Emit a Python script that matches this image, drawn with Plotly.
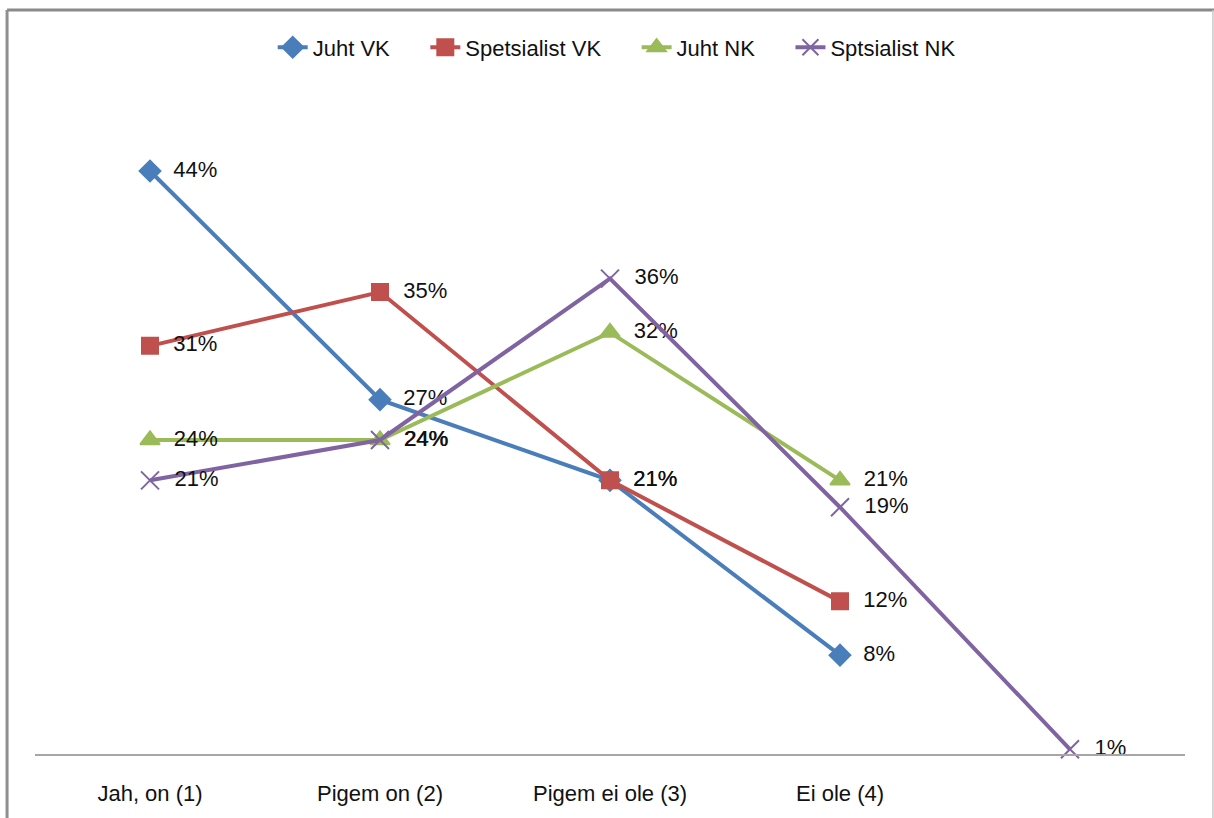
import plotly.graph_objects as go

# Answer categories (the fifth position carries no label)
categories = ["Jah, on (1)", "Pigem on (2)", "Pigem ei ole (3)", "Ei ole (4)", ""]

# Share of respondents per answer, in percent
juht_vk = [44, 27, 21, 8, None]
spetsialist_vk = [31, 35, 21, 12, None]
juht_nk = [24, 24, 32, 21, None]
sptsialist_nk = [21, 24, 36, 19, 1]

series = [
    ("Juht VK", juht_vk, "#4A7EBB", "diamond", 16),
    ("Spetsialist VK", spetsialist_vk, "#C0504D", "square", 16),
    ("Juht NK", juht_nk, "#9BBB59", "triangle-up", 17),
    ("Sptsialist NK", sptsialist_nk, "#8064A2", "x-thin-open", 18),
]

FONT = "Liberation Sans"
x_pos = list(range(len(categories)))
PAD = "\u00a0" * 5  # extra room between legend entries

fig = go.Figure()
for i, (name, values, color, symbol, size) in enumerate(series):
    labels = ["  %d%%" % v if v is not None else "" for v in values]
    fig.add_trace(go.Scatter(
        x=x_pos,
        y=values,
        name=name + (PAD if i < len(series) - 1 else ""),
        mode="lines+markers+text",
        line=dict(color=color, width=4),
        marker=dict(symbol=symbol, size=size, color=color,
                    line=dict(color=color, width=2)),
        text=labels,
        textposition="middle right",
        textfont=dict(family=FONT, size=22, color="#111111"),
        cliponaxis=False,
        connectgaps=False,
    ))

# Chart frame
frame = [
    dict(x0=-0.0243, x1=1.03, y0=1.1038, y1=1.1038, color="#8a8a8a", width=3),
    dict(x0=-0.0243, x1=-0.0243, y0=-0.2, y1=1.1038, color="#8f8f8f", width=3),
    dict(x0=1.0243, x1=1.0243, y0=-0.2, y1=1.1038, color="#c8c8c8", width=1.5),
]
for f in frame:
    fig.add_shape(type="line", xref="paper", yref="paper",
                  x0=f["x0"], x1=f["x1"], y0=f["y0"], y1=f["y1"],
                  line=dict(color=f["color"], width=f["width"]))

fig.update_layout(
    width=1214,
    height=818,
    margin=dict(l=35, r=29, t=80, b=64),
    paper_bgcolor="white",
    plot_bgcolor="white",
    font=dict(family=FONT, size=22, color="#111111"),
    showlegend=True,
    legend=dict(
        orientation="h",
        xref="container", yref="container",
        x=0.508, xanchor="center",
        y=0.942, yanchor="middle",
        font=dict(family=FONT, size=22, color="#111111"),
        itemwidth=30,
        tracegroupgap=0,
    ),
    xaxis=dict(
        range=[-0.5, 4.5],
        tickmode="array",
        tickvals=x_pos[:4],
        ticktext=categories[:4],
        showgrid=False,
        zeroline=False,
        showline=True,
        linecolor="#a6a6a6",
        linewidth=1.5,
        ticks="",
        ticklabelstandoff=19,
        tickfont=dict(family=FONT, size=22, color="#111111"),
    ),
    yaxis=dict(
        range=[0.65, 50.77],
        showgrid=False,
        zeroline=False,
        showline=False,
        showticklabels=False,
        ticks="",
    ),
)

fig.write_html("out.html")
